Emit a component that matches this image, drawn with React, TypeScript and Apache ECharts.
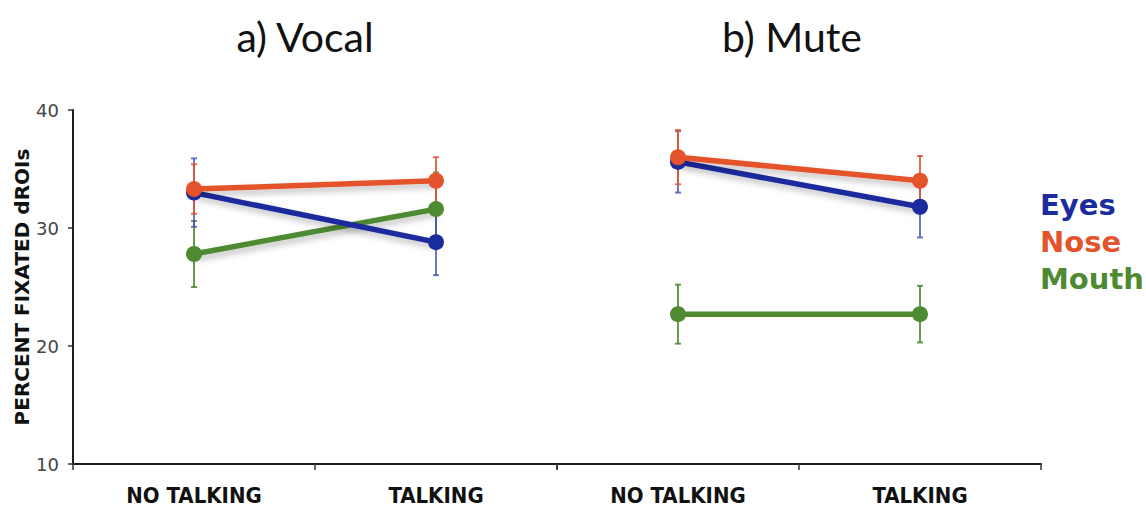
import React, { useEffect, useRef } from "react";
import * as echarts from "echarts";

const categories = ["NO TALKING", "TALKING"];
const yTicks = [10, 20, 30, 40];

const vocalEyes = [33.0, 28.8];
const vocalEyesErr = [2.9, 2.8];
const vocalNose = [33.3, 34.0];
const vocalNoseErr = [2.1, 2.0];
const vocalMouth = [27.8, 31.6];
const vocalMouthErr = [2.8, 3.1];

const muteEyes = [35.6, 31.8];
const muteEyesErr = [2.6, 2.6];
const muteNose = [36.0, 34.0];
const muteNoseErr = [2.3, 2.1];
const muteMouth = [22.7, 22.7];
const muteMouthErr = [2.5, 2.4];

const legendNames = ["Eyes", "Nose", "Mouth"];
const titles = ["a) Vocal", "b) Mute"];

const BLUE = "#1b2c9e";
const ORANGE = "#e4532b";
const GREEN = "#4d8a30";
const BLUE_ERR = "rgba(60,75,180,0.75)";
const ORANGE_ERR = "rgba(225,85,50,0.85)";
const GREEN_ERR = "rgba(77,138,48,0.85)";

function errData(means: number[], errs: number[]) {
  return means.map((m, i) => [i, m - errs[i], m + errs[i]]);
}

function errSeries(gi: number, means: number[], errs: number[], color: string) {
  return {
    type: "custom",
    xAxisIndex: gi,
    yAxisIndex: gi,
    z: 1,
    silent: true,
    encode: { x: 0, y: [1, 2] },
    data: errData(means, errs),
    renderItem: (params: any, api: any) => {
      const x = api.value(0);
      const lo = api.value(1);
      const hi = api.value(2);
      const top = api.coord([x, hi]);
      const bot = api.coord([x, lo]);
      const cap = 3;
      const st = { stroke: color, lineWidth: 2 };
      return {
        type: "group",
        children: [
          { type: "line", shape: { x1: top[0], y1: top[1], x2: bot[0], y2: bot[1] }, style: st },
          { type: "line", shape: { x1: top[0] - cap, y1: top[1], x2: top[0] + cap, y2: top[1] }, style: st },
          { type: "line", shape: { x1: bot[0] - cap, y1: bot[1], x2: bot[0] + cap, y2: bot[1] }, style: st },
        ],
      };
    },
  };
}

function lineSeries(gi: number, name: string, values: number[], color: string, z: number) {
  const flat = values.every((v) => v === values[0]);
  const shadow = flat
    ? {}
    : {
        shadowColor: "rgba(0,0,0,0.25)",
        shadowBlur: 6,
        shadowOffsetX: 2,
        shadowOffsetY: 4,
      };
  return {
    type: "line",
    name,
    xAxisIndex: gi,
    yAxisIndex: gi,
    data: values,
    z,
    symbol: "circle",
    symbolSize: 16,
    itemStyle: { color },
    lineStyle: { color, width: 5.5, ...shadow },
  };
}

export default function App() {
  const ref = useRef<HTMLDivElement>(null);
  useEffect(() => {
    if (!ref.current) return;
    const chart = echarts.init(ref.current, undefined, { renderer: "svg" });
    const axisLineStyle = { color: "#1e1e1e", width: 2 };
    const xAxisBase = {
      type: "category",
      data: categories,
      boundaryGap: true,
      axisLine: { show: true, onZero: false, lineStyle: axisLineStyle },
      axisTick: { show: true, length: 6, lineStyle: { color: "#333", width: 1.5 } },
      axisLabel: {
        margin: 20,
        fontSize: 22,
        fontWeight: "bold",
        fontFamily: "'DejaVu Sans Condensed', 'DejaVu Sans', sans-serif",
        color: "#111",
      },
      splitLine: { show: false },
    };
    const yAxisBase = {
      type: "value",
      min: yTicks[0],
      max: yTicks[yTicks.length - 1],
      interval: 10,
      splitLine: { show: false },
    };
    chart.setOption({
      animation: false,
      backgroundColor: "#ffffff",
      grid: [
        { left: 73, top: 110, width: 484, bottom: 41 },
        { left: 557, top: 110, width: 484, bottom: 41 },
      ],
      xAxis: [
        { ...xAxisBase, gridIndex: 0 },
        { ...xAxisBase, gridIndex: 1 },
      ],
      yAxis: [
        {
          ...yAxisBase,
          gridIndex: 0,
          axisLine: { show: true, onZero: false, lineStyle: axisLineStyle },
          axisTick: { show: true, length: 5, lineStyle: { color: "#333", width: 1.5 } },
          axisLabel: {
            margin: 14,
            fontSize: 18,
            fontFamily: "'DejaVu Sans', sans-serif",
            color: "#444",
          },
          name: "PERCENT FIXATED dROIs",
          nameLocation: "middle",
          nameRotate: 90,
          nameGap: 40,
          nameTextStyle: {
            fontSize: 20,
            fontWeight: "bold",
            fontFamily: "'DejaVu Sans', sans-serif",
            color: "#111",
          },
        },
        {
          ...yAxisBase,
          gridIndex: 1,
          axisLine: { show: false },
          axisTick: { show: false },
          axisLabel: { show: false },
        },
      ],
      graphic: [
        {
          type: "text",
          x: 305,
          y: 36,
          style: {
            text: titles[0],
            fontSize: 41,
            fontFamily: "Lato, 'Open Sans', sans-serif",
            fill: "#111",
            align: "center",
            verticalAlign: "middle",
          },
        },
        {
          type: "text",
          x: 792,
          y: 36,
          style: {
            text: titles[1],
            fontSize: 41,
            fontFamily: "Lato, 'Open Sans', sans-serif",
            fill: "#111",
            align: "center",
            verticalAlign: "middle",
          },
        },
        ...legendNames.map((n, i) => ({
          type: "text",
          x: 1040,
          y: 205 + i * 37,
          style: {
            text: n,
            fontSize: 29,
            fontWeight: "bold",
            fontFamily: "'DejaVu Sans', sans-serif",
            fill: [BLUE, ORANGE, GREEN][i],
            align: "left",
            verticalAlign: "middle",
          },
        })),
      ],
      series: [
        errSeries(0, vocalMouth, vocalMouthErr, GREEN_ERR),
        errSeries(0, vocalEyes, vocalEyesErr, BLUE_ERR),
        errSeries(0, vocalNose, vocalNoseErr, ORANGE_ERR),
        lineSeries(0, legendNames[2], vocalMouth, GREEN, 2),
        lineSeries(0, legendNames[0], vocalEyes, BLUE, 3),
        lineSeries(0, legendNames[1], vocalNose, ORANGE, 4),
        errSeries(1, muteMouth, muteMouthErr, GREEN_ERR),
        errSeries(1, muteEyes, muteEyesErr, BLUE_ERR),
        errSeries(1, muteNose, muteNoseErr, ORANGE_ERR),
        lineSeries(1, legendNames[2], muteMouth, GREEN, 2),
        lineSeries(1, legendNames[0], muteEyes, BLUE, 3),
        lineSeries(1, legendNames[1], muteNose, ORANGE, 4),
      ],
    });
    return () => chart.dispose();
  }, []);
  return (
    <div
      ref={ref}
      style={{ position: "fixed", left: 0, top: 0, width: 1146, height: 506 }}
    />
  );
}
